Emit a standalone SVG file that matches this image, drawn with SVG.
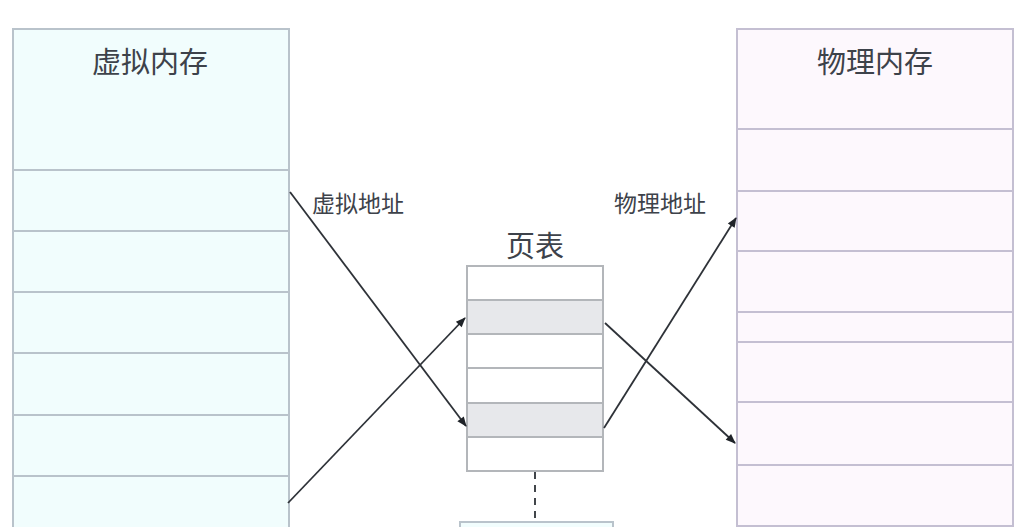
<svg xmlns="http://www.w3.org/2000/svg" width="1026" height="527" viewBox="0 0 1026 527">
<style>
.title{font-family:"Noto Sans CJK SC","Noto Sans",sans-serif;font-size:29px;fill:#3d424a;text-anchor:middle}
.lbl{font-family:"Noto Sans CJK SC","Noto Sans",sans-serif;font-size:23px;fill:#3d424a}
.vm{fill:#f1fdfd;stroke:#b9c3cb;stroke-width:2}
.pm{fill:#fdf8fd;stroke:#c4bfd2;stroke-width:2}
.pt{fill:#ffffff;stroke:#b3b6ba;stroke-width:2}
.ptg{fill:#e7e8eb;stroke:#b3b6ba;stroke-width:2}
.con{stroke:#2e3238;stroke-width:1.8;fill:none}
</style>
<defs>
<marker id="arr" viewBox="0 0 10 10" refX="9" refY="5" markerWidth="11" markerHeight="10" orient="auto" markerUnits="userSpaceOnUse">
<path d="M0,1 L10,5 L0,9 Z" fill="#1f2328"/>
</marker>
</defs>
<rect width="1026" height="527" fill="#ffffff"/>
<g id="virtual-memory">
<rect class="vm" x="13" y="29" width="276" height="141"/>
<rect class="vm" x="13" y="170" width="276" height="61"/>
<rect class="vm" x="13" y="231" width="276" height="61"/>
<rect class="vm" x="13" y="292" width="276" height="61"/>
<rect class="vm" x="13" y="353" width="276" height="62"/>
<rect class="vm" x="13" y="415" width="276" height="61"/>
<rect class="vm" x="13" y="476" width="276" height="70"/>
<text class="title" x="150" y="73">虚拟内存</text>
</g>
<g id="physical-memory">
<rect class="pm" x="737" y="29" width="276" height="100"/>
<rect class="pm" x="737" y="129" width="276" height="62"/>
<rect class="pm" x="737" y="191" width="276" height="60"/>
<rect class="pm" x="737" y="251" width="276" height="61"/>
<rect class="pm" x="737" y="312" width="276" height="30"/>
<rect class="pm" x="737" y="342" width="276" height="60"/>
<rect class="pm" x="737" y="402" width="276" height="63"/>
<rect class="pm" x="737" y="465" width="276" height="61"/>
<text class="title" x="875" y="73">物理内存</text>
</g>
<g id="page-table">
<rect class="pt" x="467" y="266" width="136" height="34"/>
<rect class="ptg" x="467" y="300" width="136" height="34"/>
<rect class="pt" x="467" y="334" width="136" height="34"/>
<rect class="pt" x="467" y="368" width="136" height="35"/>
<rect class="ptg" x="467" y="403" width="136" height="34"/>
<rect class="pt" x="467" y="437" width="136" height="34"/>
<text class="title" x="535" y="257">页表</text>
</g>
<g id="lower-box">
<rect class="vm" x="460" y="522" width="153" height="20"/>
</g>
<g id="connectors">
<line class="con" x1="290" y1="192" x2="466" y2="426" marker-end="url(#arr)"/>
<line class="con" x1="288" y1="503" x2="465" y2="318" marker-end="url(#arr)"/>
<line class="con" x1="605" y1="323" x2="735" y2="443" marker-end="url(#arr)"/>
<line class="con" x1="604" y1="428" x2="736" y2="218" marker-end="url(#arr)"/>
<line class="con" x1="535" y1="472" x2="535" y2="522" stroke-dasharray="7,6"/>
<text class="lbl" x="312" y="212">虚拟地址</text>
<text class="lbl" x="614" y="212">物理地址</text>
</g>
</svg>
